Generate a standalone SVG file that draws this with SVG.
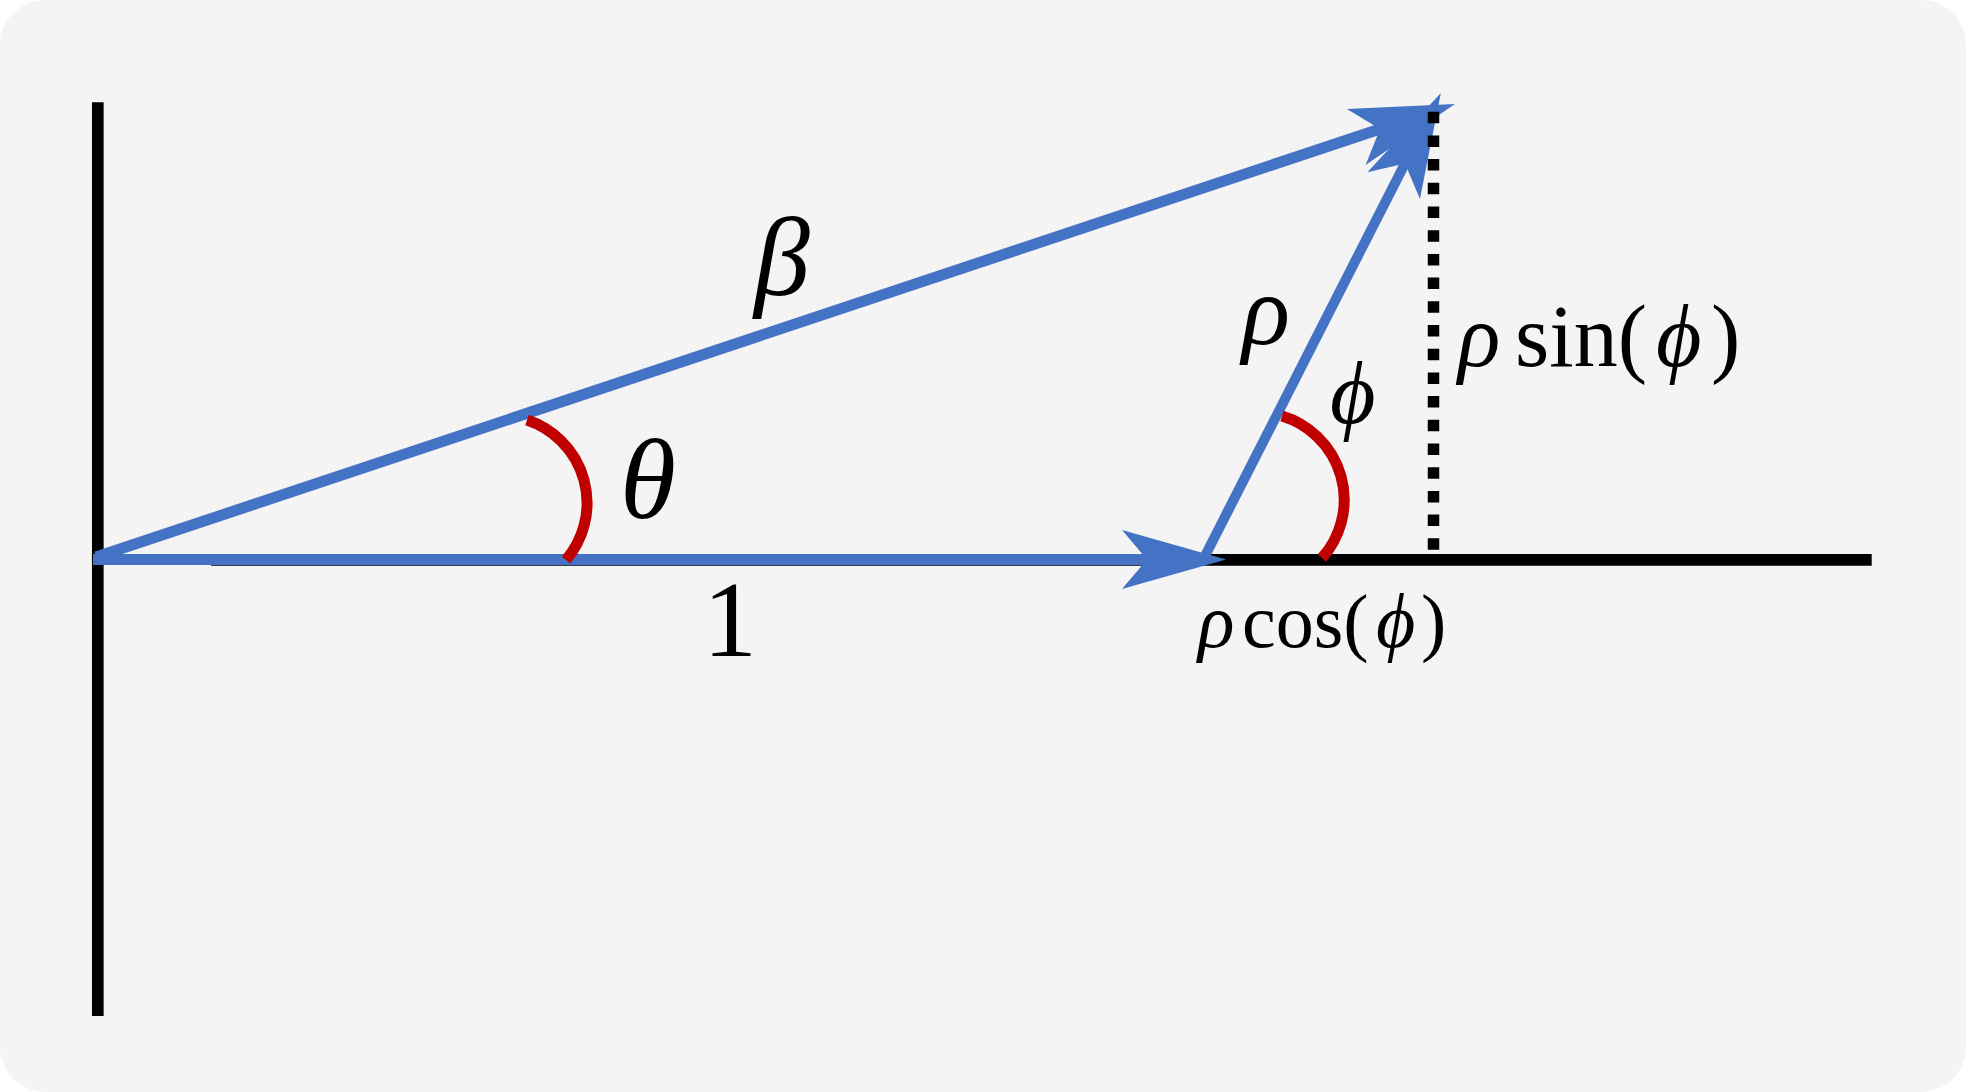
<svg xmlns="http://www.w3.org/2000/svg" width="1966" height="1092" viewBox="0 0 1966 1092">
  <style>
    .bg { fill: #f4f4f4; }
    .axis { stroke: #000000; stroke-width: 11.7; fill: none; stroke-linecap: butt; }
    .dots { stroke: #000000; stroke-width: 11.5; fill: none; stroke-dasharray: 11.5 12.2; }
    .vec { stroke: #4472c4; stroke-width: 11; fill: none; stroke-linecap: butt; }
    .vec-thin { stroke: #4472c4; stroke-width: 10; fill: none; stroke-linecap: butt; }
    .angle { stroke: #c00000; stroke-width: 11; fill: none; stroke-linecap: butt; }
    .math { font-family: "Liberation Serif", "DejaVu Serif", serif; fill: #000000; }
    .it { font-style: italic; }
  </style>
  <defs>
    <marker id="arrow" markerUnits="userSpaceOnUse" orient="auto" overflow="visible" markerWidth="1" markerHeight="1" refX="0" refY="0">
      <path d="M79,0 L-25,-29.5 L0,0 L-25,29.5 Z" fill="#4472c4"/>
    </marker>
  </defs>

  <rect class="bg" x="0" y="0" width="1966" height="1092" rx="45" ry="45"/>

  <g id="axes">
    <line class="axis" x1="97.8" y1="102.3" x2="97.8" y2="1016"/>
    <line class="axis" x1="211" y1="559.8" x2="1871.7" y2="559.8"/>
  </g>

  <g id="connectors">
    <line id="vec-1" class="vec" x1="93" y1="559.5" x2="1147" y2="559.5" marker-end="url(#arrow)"/>
    <line id="vec-beta" class="vec" x1="96" y1="557" x2="1380" y2="129" marker-end="url(#arrow)"/>
    <line id="vec-rho" class="vec-thin" x1="1205" y1="556" x2="1405" y2="163.4" marker-end="url(#arrow)"/>
    <line id="dotted-sin" class="dots" x1="1433.5" y1="111.7" x2="1433.5" y2="550"/>
  </g>

  <g id="angles">
    <path id="angle-theta" class="angle" d="M527,420 A87.5,87.5 0 0 1 566,560"/>
    <path id="angle-phi" class="angle" d="M1282,416 A87.5,87.5 0 0 1 1322,558"/>
  </g>

  <g id="label-beta">
    <text class="math it" x="754" y="295" font-size="112">β</text>
  </g>
  <g id="label-theta">
    <text class="math it" x="620" y="518" font-size="114">θ</text>
  </g>
  <g id="label-one">
    <text class="math" x="730" y="656" font-size="108" text-anchor="middle">1</text>
  </g>
  <g id="label-rho">
    <text class="math it" x="1242" y="344" font-size="100">ρ</text>
  </g>
  <g id="label-phi">
    <text class="math it" x="1330" y="423" font-size="88">ϕ</text>
  </g>
  <g id="label-rho-sin">
    <text class="math" y="366" font-size="88"><tspan class="it" x="1458">ρ</tspan> <tspan x="1515">sin(</tspan><tspan class="it" x="1656">ϕ</tspan><tspan x="1711">)</tspan></text>
  </g>
  <g id="label-rho-cos">
    <text class="math" y="647" font-size="76"><tspan class="it" x="1198">ρ</tspan> <tspan x="1242">cos(</tspan><tspan class="it" x="1376">ϕ</tspan><tspan x="1421">)</tspan></text>
  </g>
</svg>
